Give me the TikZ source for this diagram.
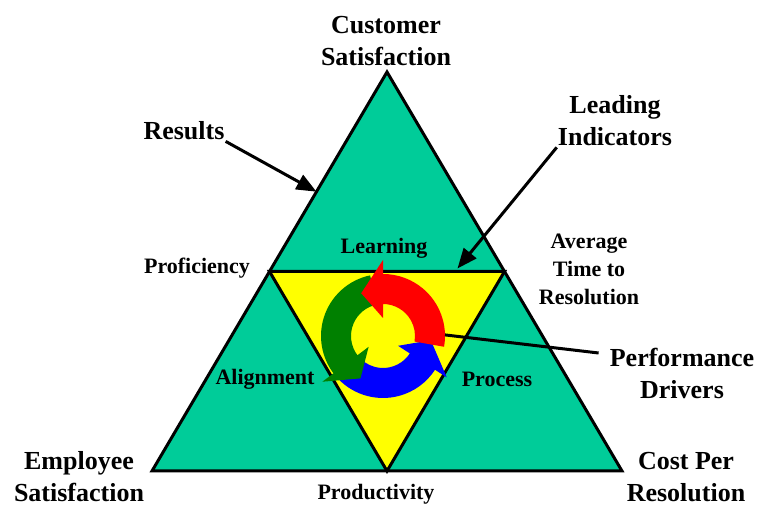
\documentclass[tikz,border=0pt]{standalone}
\usepackage{fontspec}
\setmainfont{Liberation Serif}
\usepackage{xcolor}
\usepackage{tikz}
\usetikzlibrary{arrows.meta}
\usetikzlibrary{calc}

\definecolor{sea}{RGB}{0,204,153}
\definecolor{lemon}{RGB}{255,255,0}
\definecolor{cycred}{RGB}{255,0,0}
\definecolor{cycgreen}{RGB}{0,128,0}
\definecolor{cycblue}{RGB}{0,0,255}

\tikzset{
  biglabel/.style={font=\fontsize{26}{32}\selectfont\bfseries, align=center, inner sep=1pt},
  smalllabel/.style={font=\fontsize{22}{28}\selectfont\bfseries, align=center, inner sep=1pt},
  pointer/.style={line width=3pt, -{Triangle[length=20pt,width=16pt]}},
  edge/.style={line width=3pt, line join=miter},
}

% one third of the cycle: colour, start angle, end angle, tip angle
\newcommand{\cyclepart}[4]{%
  \fill[#1] ($(ring)+(#2:62)$) arc[start angle=#2, end angle=#3, radius=62]
    -- ($(ring)+(#3:76)$) -- ($(ring)+(#4:48)$) -- ($(ring)+(#3:18)$)
    -- ($(ring)+(#3:32)$) arc[start angle=#3, end angle=#2, radius=32] -- cycle;}

\begin{document}
\begin{tikzpicture}[x=1pt, y=1pt]
                \useasboundingbox (0,0) rectangle (762,508);
                % Outer and inner triangle
                \coordinate (apex) at (387,436);
                \coordinate (bl) at (152,37);
                \coordinate (br) at (622,37);
                \coordinate (ml) at ($(apex)!0.5!(bl)$);
                \coordinate (mr) at ($(apex)!0.5!(br)$);
                \coordinate (mb) at ($(bl)!0.5!(br)$);
                \filldraw[fill=sea, edge] (apex) -- (bl) -- (br) -- cycle;
                \filldraw[fill=lemon, edge] (ml) -- (mr) -- (mb) -- cycle;

                % Cycle in the middle
                \coordinate (ring) at (383,172);
                \coordinate (ringedge) at ($(ring)+(1:62)$);
                \cyclepart{cycblue}{225}{327}{355}
                \cyclepart{cycgreen}{102}{217}{242}
                \cyclepart{cycred}{-10}{90}{117}

                % Labels
                \node[biglabel] (cust) at (386,467) {Customer\\Satisfaction};
                \node[biglabel] (results) at (184,377) {Results};
                \node[biglabel] (lead) at (615,387) {Leading\\Indicators};
                \node[smalllabel] (prof) at (197,240) {Proficiency};
                \node[smalllabel] (learn) at (384,260) {Learning};
                \node[smalllabel] (avg) at (589,239) {Average\\Time to\\Resolution};
                \node[smalllabel] (align) at (265,129) {Alignment};
                \node[smalllabel] (proc) at (497,129) {Process};
                \node[biglabel] (perf) at (682,135) {Performance\\Drivers};
                \node[biglabel] (emp) at (79,31) {Employee\\Satisfaction};
                \node[smalllabel] (prod) at (376,14) {Productivity};
                \node[biglabel] (cost) at (686,31) {Cost Per\\Resolution};

                % Pointers
                \coordinate (restip) at ($(apex)!0.3!(bl)$);
                \coordinate (leadtip) at ($(ml)!0.8!(mr)+(0,3)$);
                \draw[pointer] (results.south east) -- (restip);
                \draw[pointer] (lead.south west) -- (leadtip);
                \draw[line width=3pt] (ringedge) -- ([xshift=-10pt,yshift=20pt]perf.west);
            \end{tikzpicture}
\end{document}
